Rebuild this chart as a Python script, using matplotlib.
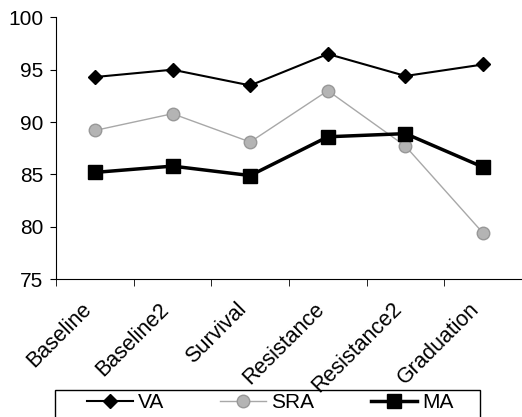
import matplotlib
matplotlib.use("Agg")
import matplotlib.pyplot as plt
import matplotlib.transforms as mtransforms
from matplotlib.patches import Rectangle
import numpy as np

plt.rcParams["font.family"] = ["Liberation Sans", "DejaVu Sans"]

categories = ["Baseline", "Baseline2", "Survival", "Resistance", "Resistance2", "Graduation"]
va = [94.3, 95.0, 93.5, 96.5, 94.4, 95.5]
sra = [89.2, 90.8, 88.1, 93.0, 87.7, 79.4]
ma = [85.2, 85.8, 84.9, 88.6, 88.9, 85.7]

fig = plt.figure(figsize=(5.22, 4.17), dpi=100)
ax = fig.add_axes([56 / 522, 1 - 279.3 / 417, 466 / 522, (279.3 - 17.3) / 417])

x = np.arange(len(categories))
ax.plot(x, va, color="black", lw=1.5, marker="D", ms=7, label="VA")
ax.plot(x, sra, color="#a8a8a8", lw=1.0, marker="o", ms=9,
        markerfacecolor="#b4b4b4", markeredgecolor="#989898", label="SRA")
ax.plot(x, ma, color="black", lw=2.5, marker="s", ms=10, label="MA")

ax.set_ylim(75, 100)
ax.set_yticks([75, 80, 85, 90, 95, 100])
ax.set_xlim(-0.5, len(categories) - 0.5)
ax.set_xticks(x)
ax.set_xticks(np.arange(len(categories)) - 0.5, minor=True)
ax.tick_params(axis="x", which="major", length=0, pad=14)
ax.tick_params(axis="x", which="minor", length=5, direction="out")
ax.tick_params(axis="y", labelsize=15, length=4, direction="out", pad=5)
ax.set_xticklabels(categories, rotation=45, ha="right", va="top",
                   rotation_mode="anchor", fontsize=15.5)
# shift labels left of the category centre (after tick_params, which resets transforms)
offset = mtransforms.ScaledTranslation(-14 / 100, 0, fig.dpi_scale_trans)
for lbl in ax.get_xticklabels():
    lbl.set_transform(lbl.get_transform() + offset)
for s in ["top", "right"]:
    ax.spines[s].set_visible(False)

# legend frame drawn separately so it can be wider than its entries
fig.patches.append(Rectangle((55 / 522, -0.01), 425 / 522, 31 / 417,
                             transform=fig.transFigure, fill=False,
                             edgecolor="black", lw=1.0))
fig.legend(loc="center", bbox_to_anchor=(270 / 522, 1 - 403 / 417),
           ncol=3, fontsize=15, frameon=False, handlelength=2.2,
           handletextpad=0.25, columnspacing=2.7, borderaxespad=0.0)

fig.savefig("out.png", dpi=100)
